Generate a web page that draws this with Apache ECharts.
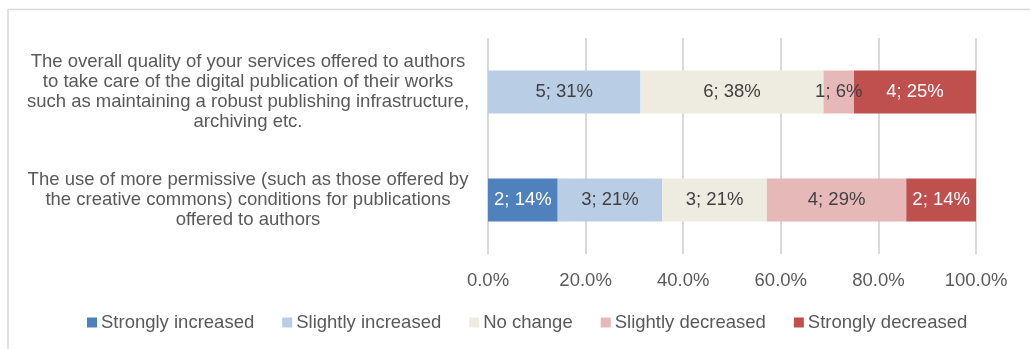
<!DOCTYPE html>
<html>
<head>
<meta charset="utf-8">
<title>Changes in services offered to authors</title>
<script src="https://cdn.jsdelivr.net/npm/echarts@6/dist/echarts.min.js"></script>
<style>
  html, body { margin: 0; padding: 0; background: #ffffff; }
  #chart { width: 1030px; height: 349px; }
</style>
</head>
<body>
<div id="chart"></div>
<script>
// Survey items, listed top to bottom (line breaks as wrapped in the chart)
const categories = [
  'The overall quality of your services offered to authors\nto take care of the digital publication of their works\nsuch as maintaining a robust publishing infrastructure,\narchiving etc.',
  'The use of more permissive (such as those offered by\nthe creative commons) conditions for publications\noffered to authors'
];

// Number of responses per answer, one value per survey item
const seriesNames = ['Strongly increased', 'Slightly increased', 'No change', 'Slightly decreased', 'Strongly decreased'];
const stronglyIncreased = [0, 2];
const slightlyIncreased = [5, 3];
const noChange          = [6, 3];
const slightlyDecreased = [1, 4];
const stronglyDecreased = [4, 2];

// Percentage axis ticks
const axisTicks = [0, 20, 40, 60, 80, 100];

const counts = [stronglyIncreased, slightlyIncreased, noChange, slightlyDecreased, stronglyDecreased];
const colors = ['#4f81bd', '#b9cde5', '#eeece1', '#e6b9b8', '#c0504d'];
const labelColors = ['#ffffff', '#404040', '#404040', '#404040', '#ffffff'];

const totals = categories.map((_, i) => counts.reduce((s, arr) => s + arr[i], 0));

const FONT = '"Liberation Sans", Arial, Helvetica, sans-serif';
const FS = 18.5;
const TEXT = '#595959';

const series = seriesNames.map((name, k) => ({
  name: name,
  type: 'bar',
  stack: 'total',
  barCategoryGap: '60%',
  itemStyle: { color: colors[k] },
  label: {
    show: true,
    position: 'inside',
    fontFamily: FONT,
    fontSize: FS,
    color: labelColors[k],
    formatter: p => {
      const c = counts[k][p.dataIndex];
      return c === 0 ? '' : c + '; ' + Math.round(p.value) + '%';
    }
  },
  emphasis: { disabled: true },
  data: counts[k].map((c, i) => c / totals[i] * 100)
}));

const chart = echarts.init(document.getElementById('chart'), null, { renderer: 'canvas' });
chart.setOption({
  animation: false,
  backgroundColor: '#ffffff',
  textStyle: { fontFamily: FONT },
  graphic: [{
    type: 'rect',
    silent: true,
    shape: { x: 8, y: 9.5, width: 1200, height: 500 },
    style: { fill: 'none', stroke: '#d9d9d9', lineWidth: 1.5 }
  }],
  grid: { left: 488, right: 54, top: 38, bottom: 95, containLabel: false },
  legend: {
    data: seriesNames,
    left: 82,
    top: 308,
    icon: 'rect',
    itemWidth: 10,
    itemHeight: 10,
    itemGap: 28,
    textStyle: { fontFamily: FONT, fontSize: FS, color: TEXT, padding: [0, 0, 0, -1] },
    selectedMode: false
  },
  xAxis: {
    type: 'value',
    min: axisTicks[0],
    max: axisTicks[axisTicks.length - 1],
    interval: axisTicks[1] - axisTicks[0],
    axisLine: { show: false },
    axisTick: { show: false },
    splitLine: { show: true, lineStyle: { color: '#d9d9d9', width: 2 } },
    axisLabel: {
      margin: 17,
      fontFamily: FONT,
      fontSize: FS,
      color: TEXT,
      formatter: v => v.toFixed(1) + '%'
    }
  },
  yAxis: {
    type: 'category',
    inverse: true,
    data: categories,
    axisLine: { show: false },
    axisTick: { show: false },
    axisLabel: {
      margin: 17,
      align: 'right',
      lineHeight: 20,
      formatter: v => v.split('\n').map(l => '{c|' + l + '}').join('\n'),
      rich: {
        c: {
          width: 446,
          align: 'center',
          fontFamily: FONT,
          fontSize: FS,
          lineHeight: 20,
          color: TEXT
        }
      }
    }
  },
  series: series
});
</script>
</body>
</html>
